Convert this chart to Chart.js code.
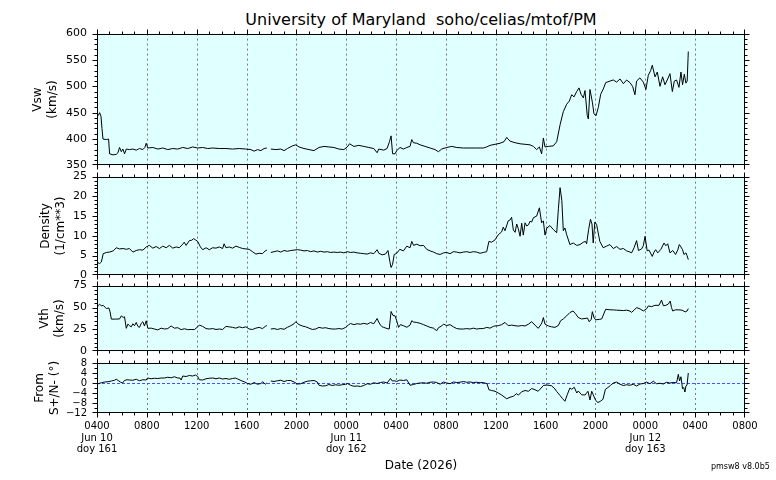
<!DOCTYPE html>
<html><head><meta charset="utf-8">
<script src="https://cdn.jsdelivr.net/npm/chart.js@4.4.1/dist/chart.umd.min.js"></script>
<style>
html,body{margin:0;padding:0;background:#fff;}
#wrap{position:relative;width:776px;height:480px;overflow:hidden;font-family:'DejaVu Sans',sans-serif;color:#000;}
canvas{position:absolute;left:0;}
#title{position:absolute;left:0;width:842px;top:11px;text-align:center;font-size:16px;line-height:18px;white-space:pre;}
#ver{position:absolute;left:711px;top:462px;font-size:8px;line-height:10px;white-space:pre;}
</style></head><body>
<div id="wrap">
<div id="title">University of Maryland  soho/celias/mtof/PM</div>
<canvas id="c1" width="776" height="180"></canvas>
<canvas id="c2" width="776" height="140"></canvas>
<canvas id="c3" width="776" height="110"></canvas>
<canvas id="c4" width="776" height="160"></canvas>
<div id="ver">pmsw8 v8.0b5</div>
</div>
<script>
// ---- time axis (hours since 2026-06-10 00:00) ----
const tickHours = [4,8,12,16,20,24,28,32,36,40,44,48,52,56];
const tickLabels = ['0400','0800','1200','1600','2000','0000','0400','0800','1200','1600','2000','0000','0400','0800'];
const dayHours = [4, 24, 48];
const dayLabels = [['Jun 10','doy 161'],['Jun 11','doy 162'],['Jun 12','doy 163']];

// ---- Vsw (km/s) ----
const vswTime = [4.00,4.11,4.21,4.32,4.40,4.48,4.75,4.93,5.01,5.28,5.55,5.68,5.81,5.95,6.08,6.21,6.35,6.61,6.88,7.15,7.41,7.68,7.84,7.95,8.08,8.48,8.88,9.28,9.68,10.08,10.48,10.88,11.28,11.68,12.08,12.48,12.88,13.28,13.81,14.35,14.88,15.41,15.95,16.35,16.61,16.88,17.15,17.41,17.63,17.8,17.95,18.35,18.75,19.01,19.28,19.68,19.95,20.21,20.61,21.01,21.41,21.81,22.21,22.61,23.01,23.41,23.81,24.08,24.27,24.61,25.01,25.41,25.81,26.21,26.48,26.61,27.01,27.28,27.47,27.6,27.72,27.92,28.05,28.32,28.59,28.86,29.12,29.26,29.39,29.66,29.93,30.33,30.73,31.13,31.40,31.66,32.06,32.47,32.87,33.40,33.94,34.47,35.01,35.27,35.54,35.94,36.34,36.66,36.88,37.14,37.55,37.95,38.35,38.75,39.02,39.28,39.50,39.68,39.82,39.95,40.22,40.62,40.89,41.16,41.42,41.69,41.90,42.09,42.28,42.49,42.68,42.84,43.03,43.16,43.34,43.43,43.56,43.75,43.88,44.04,44.23,44.42,44.63,44.82,45.17,45.43,45.70,45.97,46.24,46.50,46.77,46.98,47.17,47.30,47.57,47.84,48.05,48.24,48.43,48.56,48.78,48.96,49.18,49.39,49.58,49.76,49.98,50.17,50.33,50.51,50.70,50.86,50.99,51.13,51.26,51.36,51.45];
const vswValues = [448,445,450,443,420,400,399,400,372,370,371,374,384,376,381,372,381,380,381,379,382,380,384,392,383,384,381,383,380,382,381,384,382,385,383,384,382,383,382,382,381,382,381,380,377,380,378,382,383,null,381,380,381,378,382,387,389,385,382,380,378,384,386,385,384,381,380,385,391,386,388,386,384,382,374,381,379,382,395,406,372,372,378,384,381,384,386,399,393,392,389,386,383,380,376,381,384,386,384,383,383,383,383,385,388,390,392,395,403,396,393,391,390,389,386,380,385,372,402,385,386,387,395,427,452,466,472,484,480,490,497,485,478,492,445,438,494,470,448,444,460,485,495,507,510,512,508,514,505,512,507,500,484,510,516,508,494,521,530,540,518,527,500,518,503,512,524,490,510,512,498,527,503,523,506,510,566];

// ---- Density (1/cm**3) ----
const denTime = [4.00,4.11,4.21,4.35,4.5,4.75,5.0,5.3,5.55,5.8,6.1,6.35,6.6,6.88,7.15,7.41,7.68,7.95,8.2,8.48,8.75,9.01,9.28,9.55,9.81,10.08,10.35,10.61,10.88,11.0,11.15,11.41,11.6,11.75,11.9,12.08,12.3,12.48,12.75,13.01,13.28,13.55,13.81,14.08,14.2,14.35,14.61,14.88,15.15,15.41,15.68,15.95,16.21,16.48,16.75,17.01,17.28,17.5,17.63,17.8,17.95,18.21,18.48,18.75,19.01,19.28,19.55,19.81,20.08,20.35,20.61,20.88,21.15,21.41,21.68,21.95,22.21,22.48,22.75,23.01,23.28,23.55,23.81,24.08,24.35,24.61,24.88,25.15,25.41,25.68,25.95,26.21,26.48,26.61,26.88,27.15,27.35,27.5,27.6,27.72,27.85,28.05,28.3,28.59,28.86,29.12,29.26,29.4,29.66,29.93,30.2,30.46,30.73,31.0,31.26,31.53,31.8,32.06,32.33,32.6,32.87,33.13,33.4,33.67,33.94,34.2,34.47,34.74,35.0,35.27,35.45,35.67,35.94,36.2,36.47,36.6,36.74,37.0,37.14,37.27,37.41,37.55,37.68,37.81,37.95,38.08,38.21,38.35,38.48,38.62,38.75,38.88,39.02,39.28,39.5,39.68,39.82,39.95,40.1,40.35,40.62,40.89,41.03,41.16,41.30,41.42,41.55,41.69,41.95,42.22,42.49,42.76,43.03,43.2,43.29,43.45,43.6,43.72,43.82,43.95,44.09,44.35,44.62,44.89,45.16,45.43,45.70,45.97,46.24,46.5,46.77,46.9,47.1,47.30,47.45,47.7,47.84,47.98,48.15,48.3,48.56,48.7,48.83,49.0,49.25,49.5,49.65,49.8,49.98,50.2,50.43,50.6,50.73,50.86,50.99,51.1,51.26,51.35,51.45];
const denValues = [3.6,3.1,3.0,3.4,5.5,5.8,5.9,6.2,7.0,6.7,6.8,6.6,6.8,5.9,6.3,6.5,6.4,7.2,7.6,6.9,7.3,6.8,7.4,7.0,7.6,6.9,7.2,7.0,7.9,8.4,7.6,8.8,8.9,9.3,9.0,8.6,7.2,6.5,7.0,6.5,7.0,6.9,7.2,6.8,8.0,7.0,7.2,6.9,7.4,7.1,6.8,6.7,6.6,6.0,5.4,5.6,5.5,6.2,6.4,null,5.8,6.0,6.2,5.9,6.3,6.1,6.3,6.4,6.5,6.4,6.2,6.3,6.0,6.2,5.9,6.1,5.9,6.0,5.8,5.9,5.8,5.9,5.7,6.0,5.8,5.9,5.7,5.6,5.5,5.4,5.7,5.5,6.5,5.6,5.2,5.4,6.3,3.5,2.0,2.8,5.3,5.6,6.6,6.2,7.4,7.0,8.6,7.6,7.9,7.5,7.6,6.6,6.2,5.9,5.5,5.3,5.7,5.8,5.5,6.0,5.9,5.7,5.9,6.0,5.8,6.0,5.9,5.6,5.8,6.0,8.6,8.4,9.0,10.3,11.0,12.2,11.3,13.8,14.0,14.7,11.5,10.9,13.0,11.8,9.9,13.2,10.2,13.3,12.5,12.8,13.7,13.5,14.6,15.0,17.1,13.3,13.8,10.2,12.0,12.6,11.6,10.8,17.0,22.2,19.0,11.3,12.0,10.3,7.8,8.2,7.6,7.8,8.4,8.6,8.0,11.6,14.2,13.0,8.2,13.5,12.9,8.6,7.0,7.4,7.8,6.8,7.3,6.6,6.8,6.2,5.9,5.7,7.0,8.8,6.3,6.7,7.5,9.9,6.2,6.4,4.8,5.9,6.5,5.7,6.6,8.2,7.5,8.0,5.7,6.3,5.3,6.4,7.8,7.2,6.5,5.3,5.7,5.0,4.0];

// ---- Vth (km/s) ----
const vthTime = [4.00,4.11,4.21,4.35,4.5,4.75,4.95,5.05,5.15,5.5,5.81,5.95,6.1,6.21,6.35,6.48,6.61,6.75,6.88,7.01,7.15,7.28,7.41,7.55,7.68,7.81,7.95,8.08,8.35,8.61,8.88,9.15,9.41,9.68,9.95,10.21,10.48,10.75,11.01,11.28,11.55,11.81,12.08,12.21,12.48,12.75,13.01,13.28,13.55,13.81,14.08,14.35,14.61,14.88,15.15,15.41,15.68,15.95,16.21,16.48,16.75,17.01,17.28,17.5,17.63,17.8,17.95,18.21,18.48,18.75,19.01,19.28,19.55,19.81,19.95,20.21,20.48,20.75,21.01,21.28,21.55,21.81,22.08,22.35,22.61,22.88,23.15,23.41,23.68,23.95,24.2,24.35,24.61,24.88,25.15,25.41,25.68,25.95,26.21,26.48,26.6,26.75,26.88,27.01,27.28,27.45,27.6,27.75,27.92,28.05,28.2,28.35,28.59,28.86,29.12,29.26,29.39,29.66,29.93,30.2,30.46,30.73,31.0,31.26,31.4,31.66,31.8,32.06,32.33,32.6,32.87,33.13,33.4,33.67,33.94,34.2,34.47,34.74,35.0,35.27,35.54,35.8,35.94,36.2,36.47,36.74,37.0,37.27,37.55,37.81,38.08,38.35,38.62,38.88,39.15,39.4,39.55,39.7,39.82,39.95,40.22,40.48,40.75,41.02,41.2,41.42,41.69,41.95,42.2,42.4,42.62,42.89,43.16,43.36,43.5,43.66,43.75,43.9,44.02,44.3,44.5,44.82,45.1,45.43,45.7,45.97,46.24,46.5,46.77,46.9,47.1,47.30,47.57,47.84,48.1,48.24,48.5,48.77,49.1,49.3,49.45,49.65,49.85,50.0,50.1,50.2,50.45,50.7,50.95,51.2,51.35,51.45];
const vthValues = [50.0,52.5,53.6,52.0,52.5,48.8,49.5,45.0,36.8,36.8,37.0,40.5,38.8,39.4,26.3,31.1,29.3,28.0,31.5,29.3,33.0,28.5,27.4,32.0,33.8,29.0,34.9,26.3,26.5,25.5,24.5,26.5,25.5,26.0,29.0,26.5,27.0,24.8,25.8,24.8,25.0,24.8,28.0,30.0,28.5,26.0,25.5,26.0,25.0,25.5,25.0,28.5,28.0,27.4,26.5,28.0,27.0,28.0,25.5,25.0,26.5,27.4,26.0,28.5,29.5,null,25.5,26.0,25.0,26.0,25.2,27.5,29.3,31.5,33.8,30.5,29.0,28.0,26.5,25.0,25.5,27.4,26.5,27.0,26.0,25.5,25.5,26.0,25.5,27.4,30.5,31.8,30.5,31.5,31.0,32.0,31.0,33.0,31.5,37.5,33.5,30.0,28.0,27.4,26.0,25.5,45.5,41.0,40.5,35.0,27.4,30.5,29.3,27.5,30.0,35.0,33.5,33.0,32.0,30.5,29.0,27.4,26.5,23.6,27.0,29.0,31.1,29.5,30.5,28.0,26.0,25.5,25.5,26.0,25.5,26.5,25.5,26.0,26.0,27.4,26.5,28.5,29.0,29.3,30.5,33.0,29.3,30.0,29.3,28.8,29.5,29.0,31.0,33.8,30.0,26.3,29.0,32.5,38.6,31.1,29.0,28.0,27.4,29.5,34.9,37.0,40.5,44.3,46.1,43.0,38.6,37.0,37.5,38.0,33.8,36.5,45.3,38.0,36.0,36.5,37.0,48.0,47.5,47.3,47.0,46.8,46.5,47.0,46.0,44.5,47.0,49.9,48.5,46.1,48.5,51.8,51.0,52.5,52.5,58.5,52.0,52.5,54.0,57.4,50.0,46.1,47.5,47.3,47.0,45.0,46.0,48.8];

// ---- From S+/N- (deg) ----
const fromTime = [4.00,4.15,4.35,4.6,4.88,5.15,5.4,5.55,5.7,5.9,6.05,6.2,6.4,6.61,6.88,7.15,7.41,7.68,7.95,8.05,8.35,8.61,8.88,9.15,9.41,9.68,9.95,10.21,10.48,10.65,10.75,10.88,11.15,11.41,11.68,11.9,12.08,12.21,12.48,12.75,13.01,13.28,13.55,13.81,14.08,14.35,14.61,14.88,15.1,15.3,15.55,15.81,16.08,16.35,16.61,16.88,17.15,17.3,17.5,17.63,17.8,17.95,18.21,18.48,18.75,19.01,19.28,19.55,19.81,20.08,20.35,20.61,20.88,21.15,21.41,21.68,21.81,22.08,22.35,22.61,22.88,23.15,23.41,23.68,23.95,24.1,24.35,24.61,24.88,25.15,25.41,25.68,25.95,26.21,26.48,26.75,27.01,27.28,27.55,27.7,27.9,28.05,28.3,28.59,28.86,29.12,29.39,29.66,29.93,30.2,30.46,30.73,31.0,31.26,31.53,31.8,32.06,32.33,32.6,32.87,33.13,33.4,33.67,33.94,34.2,34.47,34.74,35.0,35.3,35.45,35.67,35.94,36.2,36.47,36.74,36.88,37.14,37.41,37.68,37.81,38.08,38.35,38.62,38.88,39.15,39.4,39.55,39.82,40.1,40.48,40.75,40.89,41.16,41.35,41.55,41.75,41.95,42.1,42.3,42.5,42.62,42.89,43.16,43.4,43.56,43.7,43.82,44.02,44.2,44.4,44.6,44.8,45.0,45.2,45.43,45.7,45.97,46.24,46.5,46.77,47.04,47.3,47.57,47.84,48.1,48.37,48.64,48.9,49.17,49.44,49.7,49.97,50.24,50.51,50.65,50.75,50.86,50.99,51.08,51.18,51.26,51.35,51.45];
const fromValues = [-0.4,-0.2,0.1,0.4,0.5,0.8,1.1,1.5,1.0,0.3,0.0,1.0,1.3,1.2,1.1,1.5,0.9,1.3,1.2,2.0,1.7,1.9,1.8,2.0,2.0,2.3,2.1,2.5,2.0,2.0,1.2,2.8,2.6,3.0,2.8,3.2,2.6,1.3,1.2,1.7,1.9,2.0,1.7,2.0,1.6,1.8,1.5,1.8,2.0,1.6,1.0,0.5,-0.2,-0.5,0.2,-0.5,-0.2,0.5,-0.5,0.0,null,0.8,0.6,0.9,1.1,0.6,1.0,1.0,0.4,-0.4,-0.3,0.3,0.7,0.9,1.0,0.4,-0.9,-1.2,-1.1,-0.6,-1.0,-0.7,-0.9,-0.7,-0.5,-0.2,-0.9,-1.3,-1.2,-1.4,-1.0,-0.3,-0.5,0.1,-0.2,0.2,0.4,0.0,1.8,0.8,0.9,0.6,1.2,1.0,1.3,-0.9,-0.6,-0.2,0.0,0.1,-0.1,0.3,0.4,0.2,-0.5,0.4,0.0,-0.3,0.4,0.2,0.3,0.6,0.3,0.4,0.2,0.3,0.1,0.2,-0.3,-2.7,-3.0,-3.3,-4.0,-4.8,-5.8,-6.3,-5.7,-5.3,-4.2,-4.9,-3.5,-3.0,-3.3,-2.2,-2.7,-3.3,-2.5,-1.0,-0.8,-1.1,-2.4,-3.4,-5.0,-6.2,-7.3,-4.5,-2.0,-2.5,-1.7,-4.0,-3.2,-4.7,-4.8,-3.3,-6.8,-3.3,-4.7,-7.0,-7.8,-7.3,-6.5,-2.5,-1.8,-1.0,0.0,0.4,-0.5,-1.0,-0.7,-0.9,-0.5,-1.2,-0.4,-0.2,0.4,-0.3,0.7,-0.3,-0.1,-0.4,0.3,0.0,0.2,0.1,3.5,0.8,2.5,-2.3,-1.8,-3.6,-1.2,-0.8,4.0];

Chart.defaults.font.family = "'DejaVu Sans', sans-serif";
Chart.defaults.color = '#000';

const panelDeco = {
  id: 'panelDeco',
  beforeDatasetsDraw(chart, args, o) {
    const {ctx, chartArea: a, scales: {x, y}} = chart;
    ctx.save();
    ctx.fillStyle = '#e0ffff';
    ctx.fillRect(a.left, a.top, a.right - a.left, a.bottom - a.top);
    ctx.lineWidth = 1;
    ctx.strokeStyle = '#7a7a7a';
    ctx.setLineDash([2, 3]);
    tickHours.forEach(h => {
      if (h <= x.min || h >= x.max) return;
      const px = Math.round(x.getPixelForValue(h)) + 0.5;
      ctx.beginPath(); ctx.moveTo(px, a.top); ctx.lineTo(px, a.bottom); ctx.stroke();
    });
    if (o.zeroLine) {
      ctx.strokeStyle = '#4d4dff';
      ctx.setLineDash([3, 2]);
      const py = Math.round(y.getPixelForValue(0)) + 0.5;
      ctx.beginPath(); ctx.moveTo(a.left, py); ctx.lineTo(a.right, py); ctx.stroke();
    }
    ctx.restore();
  },
  afterDraw(chart, args, o) {
    const {ctx, chartArea: a, scales: {x, y}} = chart;
    ctx.save();
    ctx.strokeStyle = '#000';
    ctx.lineWidth = 1;
    ctx.setLineDash([]);
    const L = Math.round(a.left) + 0.5, R = Math.round(a.right) - 0.5;
    const T = Math.round(a.top) + 0.5, B = Math.round(a.bottom) - 0.5;
    ctx.strokeRect(L, T, R - L, B - T);
    ctx.beginPath();
    for (let h = x.min; h <= x.max + 1e-9; h += 1) {
      const major = Math.abs((h - 4) % 4) < 1e-9;
      const len = major ? 5 : 3;
      const px = Math.round(x.getPixelForValue(h)) + (h === x.max ? -0.5 : 0.5);
      ctx.moveTo(px, T); ctx.lineTo(px, T - len);
      ctx.moveTo(px, B); ctx.lineTo(px, B + len);
    }
    const n = Math.round((y.max - y.min) / o.yMinor);
    for (let i = 0; i <= n; i++) {
      const v = y.min + i * o.yMinor;
      const major = Math.abs(((v - y.min) / o.yMajor) - Math.round((v - y.min) / o.yMajor)) < 1e-6;
      const len = major ? 5 : 3;
      let py = Math.round(y.getPixelForValue(v)) + 0.5;
      if (i === 0) py = B; if (i === n) py = T;
      ctx.moveTo(L, py); ctx.lineTo(L - len, py);
      ctx.moveTo(R, py); ctx.lineTo(R + len, py);
    }
    ctx.stroke();
    ctx.restore();
  }
};

function xyData(t, v) { return t.map((tt, i) => ({x: tt, y: v[i]})); }

function panelConfig(t, v, yMin, yMax, yStep, yMinor, titleLines, titlePad, opts) {
  const isBottom = !!opts.bottom;
  const yFont = opts.yFont || 11;
  return {
    type: 'line',
    data: { datasets: [{ data: xyData(t, v), borderColor: '#000', borderWidth: 1, pointRadius: 0, tension: 0, spanGaps: false }] },
    options: {
      responsive: false, animation: false, devicePixelRatio: 1,
      layout: { padding: { left: 0, right: 31, top: 0, bottom: 0 } },
      plugins: { legend: { display: false }, tooltip: { enabled: false }, title: { display: false },
        panelDeco: { yMinor: yMinor, yMajor: yStep, zeroLine: !!opts.zeroLine } },
      scales: {
        x: {
          type: 'linear', min: 4, max: 56, display: isBottom,
          grid: { display: false, drawTicks: false }, border: { display: false },
          afterBuildTicks: s => { s.ticks = tickHours.map(h => ({ value: h })); },
          afterFit: s => { if (isBottom) s.height = 67; },
          ticks: {
            autoSkip: false, maxRotation: 0, padding: 8,
            font: { size: 10, lineHeight: 1.15 },
            callback: (val) => {
              const i = tickHours.indexOf(val);
              const lab = tickLabels[i];
              const d = dayHours.indexOf(val);
              return d >= 0 ? [lab].concat(dayLabels[d]) : lab;
            }
          },
          title: { display: isBottom, text: 'Date (2026)', font: { size: 12, lineHeight: 1.2 }, padding: { top: 0, bottom: 7 } }
        },
        y: {
          min: yMin, max: yMax,
          grid: { display: false, drawTicks: false }, border: { display: false },
          afterBuildTicks: s => { const arr = []; for (let k = yMin; k <= yMax + 1e-9; k += yStep) arr.push({ value: k }); s.ticks = arr; },
          afterFit: s => { s.width = 97; },
          ticks: { padding: 10, autoSkip: false, font: { size: yFont },
            callback: (val) => val < 0 ? '\u2212' + Math.abs(val) : String(val) },
          title: { display: true, text: titleLines, font: { size: 12, lineHeight: 1.25 }, padding: { top: titlePad, bottom: 0 } }
        }
      }
    },
    plugins: [panelDeco]
  };
}

// place a panel so that its plot area spans [top, bottom] on the page
function placePanel(id, top, bottom, cfgFn) {
  const cv = document.getElementById(id);
  const want = bottom - top;
  let ch = new Chart(cv, cfgFn());
  const a = ch.chartArea;
  const extra = cv.height - (a.bottom - a.top);
  ch.destroy();
  cv.width = 776;
  cv.height = want + extra;
  ch = new Chart(cv, cfgFn());
  cv.style.top = (top - ch.chartArea.top) + 'px';
  return ch;
}

placePanel('c1', 34, 166, () => panelConfig(vswTime, vswValues, 350, 600, 50, 10, ['Vsw', '(km/s)'], 30, {}));
placePanel('c2', 177, 276, () => panelConfig(denTime, denValues, 0, 25, 5, 1, ['Density', '(1/cm**3)'], 38.5, {}));
placePanel('c3', 286, 352, () => panelConfig(vthTime, vthValues, 0, 75, 25, 5, ['Vth', '(km/s)'], 37.5, {}));
placePanel('c4', 363, 413, () => panelConfig(fromTime, fromValues, -12, 8, 4, 2, ['From', 'S+/N- (\u00B0)'], 32.5, { bottom: true, zeroLine: true, yFont: 10 }));
</script>
</body></html>
